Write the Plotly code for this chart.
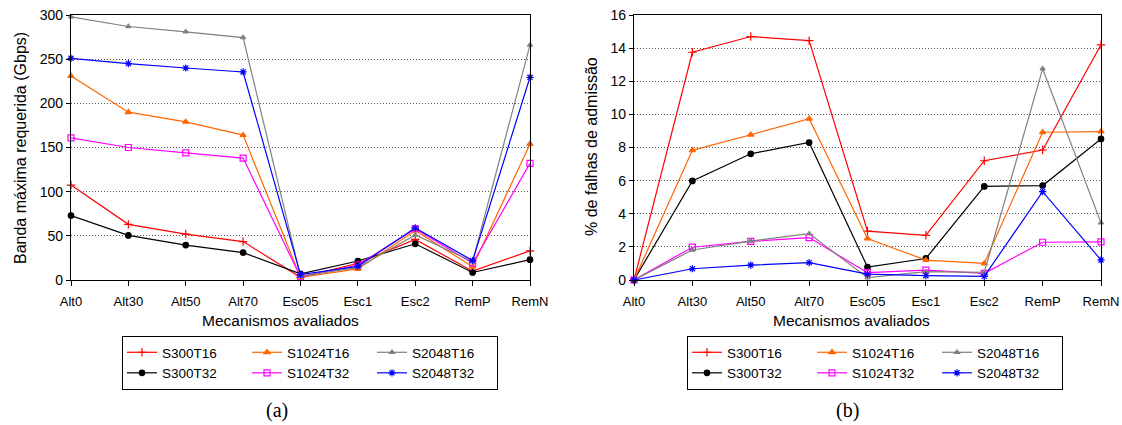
import plotly.graph_objects as go

categories = ["Alt0", "Alt30", "Alt50", "Alt70", "Esc05", "Esc1", "Esc2", "RemP", "RemN"]
series_names = ["S300T16", "S300T32", "S1024T16", "S1024T32", "S2048T16", "S2048T32"]

# (a) Banda máxima requerida (Gbps)
band_S300T16 = [107.5, 63, 52, 43.5, 3, 19, 46, 10, 33]
band_S300T32 = [73, 50.5, 39.5, 31, 7, 21.5, 41, 8.5, 23]
band_S1024T16 = [231, 190, 179, 164, 3, 12.5, 56, 15, 154]
band_S1024T32 = [161, 150, 144, 138, 3.5, 17, 58, 19, 132]
band_S2048T16 = [298, 287, 281, 274.5, 4.5, 14, 51, 21, 266]
band_S2048T32 = [251, 245, 240, 235.5, 6, 15.5, 59, 22, 229.5]

# (b) % de falhas de admissão
fail_S300T16 = [0, 13.75, 14.7, 14.45, 2.95, 2.7, 7.2, 7.85, 14.2]
fail_S300T32 = [0, 5.98, 7.62, 8.3, 0.78, 1.3, 5.65, 5.7, 8.52]
fail_S1024T16 = [0, 7.83, 8.77, 9.74, 2.5, 1.2, 1.0, 8.92, 8.96]
fail_S1024T32 = [0, 1.98, 2.33, 2.56, 0.44, 0.6, 0.4, 2.28, 2.3]
fail_S2048T16 = [0, 1.81, 2.35, 2.8, 0.14, 0.5, 0.46, 12.75, 3.45]
fail_S2048T32 = [0, 0.68, 0.9, 1.05, 0.36, 0.26, 0.22, 5.33, 1.21]

band = [band_S300T16, band_S300T32, band_S1024T16, band_S1024T32, band_S2048T16, band_S2048T32]
fail = [fail_S300T16, fail_S300T32, fail_S1024T16, fail_S1024T32, fail_S2048T16, fail_S2048T32]

styles = {
    "S300T16": dict(color="#FF0000", symbol="cross-thin-open", size=6),
    "S300T32": dict(color="#000000", symbol="circle", size=5.5),
    "S1024T16": dict(color="#FF6600", symbol="triangle-up", size=5.5),
    "S1024T32": dict(color="#FF00FF", symbol="square-open", size=6),
    "S2048T16": dict(color="#808080", symbol="triangle-up", size=4.5),
    "S2048T32": dict(color="#0000FF", symbol="asterisk-open", size=6),
}
# legend columns: each column is a group of two entries
legend_groups = {"S300T16": "g1", "S300T32": "g1", "S1024T16": "g2", "S1024T32": "g2",
                 "S2048T16": "g3", "S2048T32": "g3"}

W, H = 1122, 425
def px_x(p):
    return p / W
def px_y(p):
    return (H - p) / H

fig = go.Figure()

for panel, data, xa, ya, lg in [("a", band, "x", "y", "legend"), ("b", fail, "x2", "y2", "legend2")]:
    for name in series_names:
        st = styles[name]
        vals = data[series_names.index(name)]
        fig.add_trace(go.Scatter(
            x=categories, y=vals, name=name, mode="lines+markers",
            xaxis=xa, yaxis=ya, legend=lg, legendgroup=panel + legend_groups[name],
            line=dict(color=st["color"], width=1.2),
            marker=dict(symbol=st["symbol"], size=st["size"], color=st["color"],
                        line=dict(color=st["color"], width=1.2)),
            cliponaxis=False,
        ))

font_family = "Liberation Sans, Arial, sans-serif"
axis_common = dict(showline=True, linecolor="black", linewidth=1.3, mirror=True,
                   ticks="outside", tickcolor="black", ticklen=5, tickwidth=1,
                   tickfont=dict(size=13, color="black", family=font_family))

xa_common = dict(axis_common, type="category", range=[0, 8], showgrid=False,
                 zeroline=False, ticklabelstandoff=4)
ya_common = dict(axis_common, showgrid=True, gridcolor="#555555", griddash="1px,2px",
                 gridwidth=1, zeroline=False, ticklen=4,
                 tickfont=dict(size=14, color="black", family=font_family))

legend_common = dict(orientation="h", xanchor="left", yanchor="top",
                     bordercolor="black", borderwidth=1, bgcolor="white",
                     entrywidth=80, entrywidthmode="pixels", traceorder="grouped",
                     tracegroupgap=0,
                     font=dict(size=13.5, family=font_family, color="black"), itemwidth=30)

fig.update_layout(
    width=W, height=H,
    margin=dict(l=0, r=0, t=0, b=0, autoexpand=False),
    paper_bgcolor="white", plot_bgcolor="white",
    font=dict(family=font_family, color="black"),
    xaxis=dict(xa_common, domain=[px_x(71), px_x(530)], anchor="y"),
    yaxis=dict(ya_common, domain=[px_y(280), px_y(15)], range=[0, 300], dtick=50, anchor="x"),
    xaxis2=dict(xa_common, domain=[px_x(634), px_x(1101)], anchor="y2"),
    yaxis2=dict(ya_common, domain=[px_y(280), px_y(15)], range=[0, 16], dtick=2, anchor="x2"),
    legend=dict(legend_common, x=px_x(122), y=px_y(336)),
    legend2=dict(legend_common, x=px_x(687), y=px_y(336)),
    showlegend=True,
)

annotations = [
    dict(text="Mecanismos avaliados", x=px_x(280), y=px_y(320), xref="paper", yref="paper",
         showarrow=False, font=dict(size=15.5, family=font_family, color="black"),
         xanchor="center", yanchor="middle"),
    dict(text="Mecanismos avaliados", x=px_x(851), y=px_y(320), xref="paper", yref="paper",
         showarrow=False, font=dict(size=15.5, family=font_family, color="black"),
         xanchor="center", yanchor="middle"),
    dict(text="Banda máxima requerida (Gbps)", x=px_x(20), y=px_y(148), xref="paper", yref="paper",
         showarrow=False, textangle=-90, font=dict(size=16, family=font_family, color="black"),
         xanchor="center", yanchor="middle"),
    dict(text="% de falhas de admissão", x=px_x(592), y=px_y(147), xref="paper", yref="paper",
         showarrow=False, textangle=-90, font=dict(size=16, family=font_family, color="black"),
         xanchor="center", yanchor="middle"),
    dict(text="(a)", x=px_x(277), y=px_y(410), xref="paper", yref="paper",
         showarrow=False, font=dict(size=20, family="Liberation Serif, Times New Roman, serif", color="black"),
         xanchor="center", yanchor="middle"),
    dict(text="(b)", x=px_x(847), y=px_y(410), xref="paper", yref="paper",
         showarrow=False, font=dict(size=20, family="Liberation Serif, Times New Roman, serif", color="black"),
         xanchor="center", yanchor="middle"),
]
fig.update_layout(annotations=annotations)

fig.write_html("out.html")
